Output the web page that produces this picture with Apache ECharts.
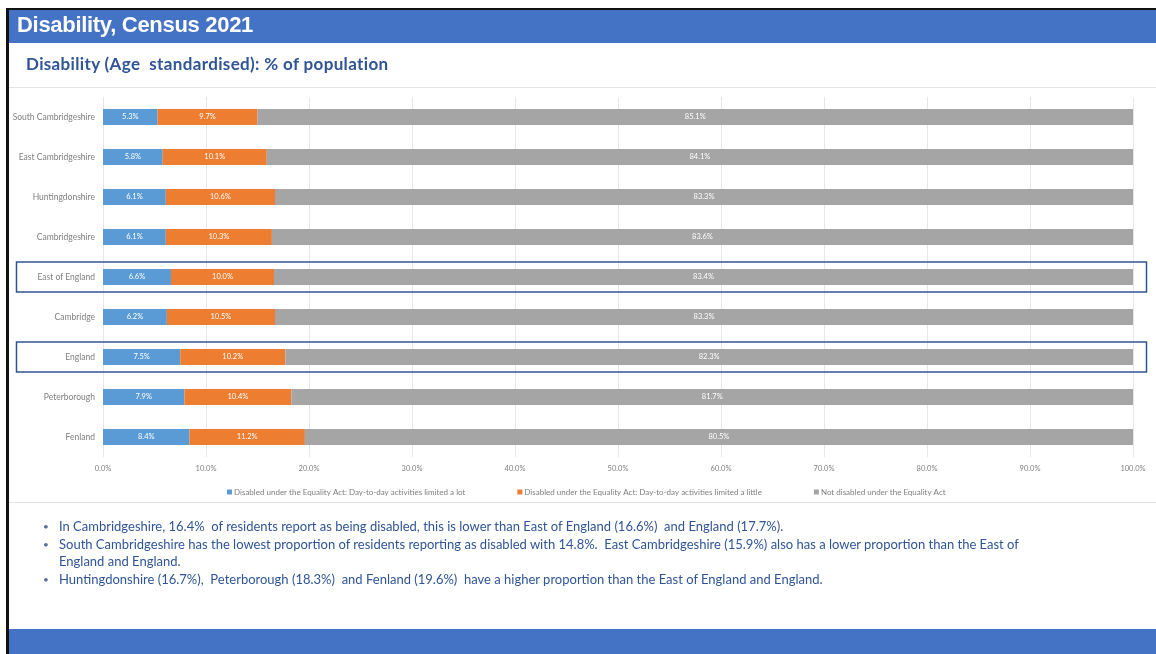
<!DOCTYPE html>
<html>
<head>
<meta charset="utf-8">
<script src="https://cdn.jsdelivr.net/npm/echarts@6/dist/echarts.min.js"></script>
<style>
  html, body { margin:0; padding:0; width:1156px; height:654px; overflow:hidden; background:#fff; }
  #page { position:relative; width:1156px; height:654px; }
  #topline { position:absolute; left:6px; top:8px; width:1150px; height:2px; background:#111; }
  #leftline { position:absolute; left:6px; top:8px; width:3px; height:646px; background:#111; }
  #header { position:absolute; left:9px; top:10px; width:1147px; height:33px; background:#4472C4; }
  #header span { position:absolute; left:8px; top:2px; color:#fff; font:bold 22px "Liberation Sans", Arial, sans-serif; letter-spacing:-0.3px; }
  #subtitle { position:absolute; left:26px; top:53px; color:#2F5597; font:bold 17px Lato, "Noto Sans", sans-serif; letter-spacing:0.35px; white-space:pre; }
  .sep { position:absolute; left:9px; width:1147px; height:1px; background:#E3E3E3; }
  #chart { position:absolute; left:0; top:0; width:1156px; height:654px; }
  #notes { position:absolute; left:43px; top:518px; width:1016px; color:#2F5597; font:13px Lato, "Noto Sans", sans-serif; line-height:17.5px; }
  #notes div { position:relative; padding-left:16px; }
  #notes div::before { content:"•"; position:absolute; left:0; top:0; font-size:10px; color:#5A6E9A; }
  #footer { position:absolute; left:9px; top:629px; width:1147px; height:25px; background:#4472C4; }
</style>
</head>
<body>
<div id="page">
  <div id="chart"></div>
  <div id="topline"></div>
  <div id="leftline"></div>
  <div id="header"><span>Disability, Census 2021</span></div>
  <div id="subtitle">Disability (Age  standardised): % of population</div>
  <div class="sep" style="top:87px"></div>
  <div class="sep" style="top:502px"></div>
  <div id="notes">
    <div>In Cambridgeshire, 16.4% &nbsp;of residents report as being disabled, this is lower than East of England (16.6%) &nbsp;and England (17.7%).</div>
    <div>South Cambridgeshire has the lowest proportion of residents reporting as disabled with 14.8%. &nbsp;East Cambridgeshire (15.9%) also has a lower proportion than the East of England and England.</div>
    <div>Huntingdonshire (16.7%), &nbsp;Peterborough (18.3%) &nbsp;and Fenland (19.6%) &nbsp;have a higher proportion than the East of England and England.</div>
  </div>
  <div id="footer"></div>
</div>
<script>
const categories = ['South Cambridgeshire','East Cambridgeshire','Huntingdonshire','Cambridgeshire','East of England','Cambridge','England','Peterborough','Fenland'];
const limitedLot = [5.3, 5.8, 6.1, 6.1, 6.6, 6.2, 7.5, 7.9, 8.4];
const limitedLittle = [9.7, 10.1, 10.6, 10.3, 10.0, 10.5, 10.2, 10.4, 11.2];
const notDisabled = [85.1, 84.1, 83.3, 83.6, 83.4, 83.3, 82.3, 81.7, 80.5];
const seriesNames = ['Disabled under the Equality Act: Day-to-day activities limited a lot','Disabled under the Equality Act: Day-to-day activities limited a little','Not disabled under the Equality Act'];
const highlighted = ['East of England','England'];

const chart = echarts.init(document.getElementById('chart'), null, {renderer:'canvas'});
const labelStyle = { show:true, position:'inside', color:'#fff', fontSize:7.5, fontFamily:'Lato, sans-serif', formatter: p => p.value.toFixed(1) + '%' };
function mk(name, data, color) {
  return { name, type:'bar', stack:'total', data, barWidth:16, itemStyle:{color}, label:labelStyle, emphasis:{disabled:true} };
}
chart.setOption({
  animation:false,
  grid:{ left:103, right:23, top:97, bottom:197, containLabel:false },
  xAxis:{ type:'value', min:0, max:100, interval:10,
    axisLine:{show:false}, axisTick:{show:false},
    splitLine:{ show:true, lineStyle:{color:'#E6E6E6', width:1} },
    axisLabel:{ color:'#7F7F7F', fontSize:7.5, fontFamily:'Lato, sans-serif', margin:8, formatter: v => v.toFixed(1) + '%' } },
  yAxis:{ type:'category', data:categories, inverse:true,
    axisLine:{show:false}, axisTick:{show:false},
    axisLabel:{ color:'#7F7F7F', fontSize:8.5, fontFamily:'Lato, sans-serif', margin:8 } },
  legend:{ top:483, left:222, itemWidth:5, itemHeight:5, itemGap:52, icon:'rect',
    textStyle:{ color:'#7F7F7F', fontSize:8, fontFamily:'Lato, sans-serif', padding:[0,0,0,-3] }, data:seriesNames },
  series:[ mk(seriesNames[0], limitedLot, '#5B9BD5'), mk(seriesNames[1], limitedLittle, '#ED7D31'), mk(seriesNames[2], notDisabled, '#A5A5A5') ]
});
const rects = highlighted.map(c => {
  const y = chart.convertToPixel({yAxisIndex:0}, c);
  return { type:'rect', shape:{ x:16.5, y:y-15, width:1130, height:30 }, style:{ fill:null, stroke:'#2F5597', lineWidth:1.5 }, silent:true };
});
chart.setOption({ graphic: rects });
</script>
</body>
</html>
